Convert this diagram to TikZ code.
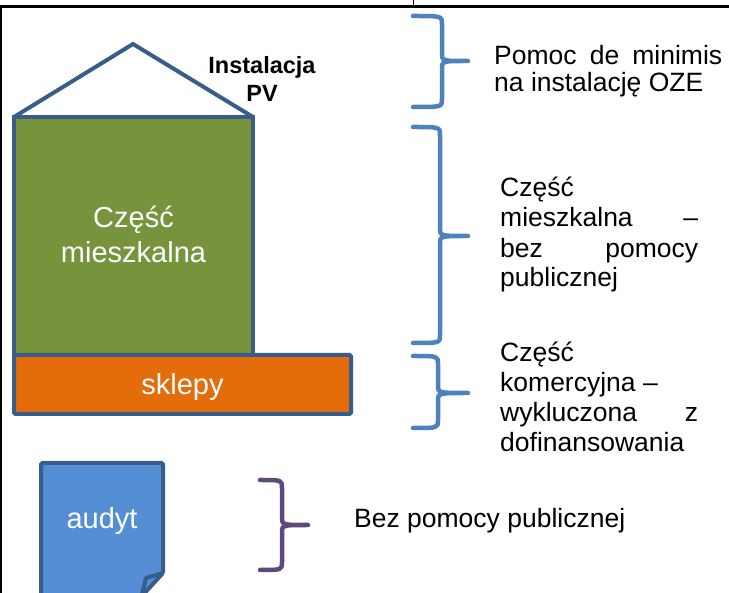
\documentclass[tikz,border=0pt]{standalone}
\usepackage{fontspec}
\setmainfont{Liberation Sans}
\definecolor{outl}{HTML}{385D8A}
\definecolor{grn}{HTML}{77933C}
\definecolor{orng}{HTML}{E46C0A}
\definecolor{docb}{HTML}{558ED5}
\definecolor{brb}{HTML}{4F81BD}
\definecolor{purp}{HTML}{5F497A}
\tikzset{
  shapeline/.style={draw=outl, line width=4pt, line join=miter},
  bracestyle/.style={draw=brb, line width=4.5pt, line cap=round, line join=round},
  whitetxt/.style={text=white, inner sep=0pt, font=\fontsize{29}{35}\selectfont},
  sidetxt/.style={text=black, inner sep=0pt, anchor=base west, font=\fontsize{26.5}{30}\selectfont},
  pvtxt/.style={text=black, inner sep=0pt, anchor=base, font=\fontsize{23.5}{28}\selectfont\bfseries},
}
\newcommand{\mybrace}[8]{% style, tip x, spine x, point x, top, mid, bottom, r
  \draw[#1] (#2,#5) .. controls (#3,#5) and (#3,#5) .. (#3,#5+#8)
    -- (#3,#6-#8) .. controls (#3,#6) and (#3,#6) .. (#4,#6)
    (#4,#6) .. controls (#3,#6) and (#3,#6) .. (#3,#6+#8)
    -- (#3,#7-#8) .. controls (#3,#7) and (#3,#7) .. (#2,#7);
}
\begin{document}
\begin{tikzpicture}[x=1pt,y=-1pt]
\useasboundingbox (0,0) rectangle (729,593);
% frame lines
\draw[line width=2.2pt] (0,6.5) -- (729,6.5);
\draw[line width=2pt] (1,6.5) -- (1,593);
\draw[line width=0.8pt] (413,0) -- (413,6);
% roof
\draw[shapeline] (14,117) -- (133,44) -- (253,117);
% residential part
\filldraw[shapeline, fill=grn] (14,117) rectangle (253,355);
% shops
\filldraw[shapeline, fill=orng, rounded corners=1.5pt] (14,355) rectangle (351,414);
% audit document
\filldraw[shapeline, fill=docb, rounded corners=1.5pt] (41,597) -- (41,463) -- (163,463) -- (163,573) -- (141,597) -- cycle;
\draw[shapeline, line join=round] (142,594) -- (146,578) -- (163,573);
% texts in shapes
\node[whitetxt, anchor=base] (cz1) at (133.5,228) {Część};
\node[whitetxt, anchor=base] (cz2) at (133.5,263) {mieszkalna};
\node[whitetxt, anchor=base] (skl) at (182.5,395) {sklepy};
\node[whitetxt, anchor=base] (aud) at (102,529) {audyt};
\node[pvtxt] (pv1) at (262,74) {Instalacja};
\node[pvtxt] (pv2) at (262,102) {PV};
% braces
\mybrace{bracestyle}{413}{442}{468}{16}{61}{107}{8}
\mybrace{bracestyle}{413}{440}{468}{127}{236}{343}{8}
\mybrace{bracestyle}{413}{438}{468}{356}{393}{428}{8}
\mybrace{bracestyle, draw=purp}{260}{282}{308}{480}{525}{570}{8}
% side texts
\node[sidetxt] (t1a) at (494,65) {\makebox[228pt][s]{Pomoc de minimis}};
\node[sidetxt] (t1b) at (494,92) {na instalację OZE};
\node[sidetxt] (t2a) at (500,197) {Część};
\node[sidetxt] (t2b) at (500,227) {\makebox[198pt][s]{mieszkalna –}};
\node[sidetxt] (t2c) at (500,257.5) {\makebox[198pt][s]{bez pomocy}};
\node[sidetxt] (t2d) at (500,287) {publicznej};
\node[sidetxt] (t3a) at (500,362) {Część};
\node[sidetxt] (t3b) at (500,392) {komercyjna –};
\node[sidetxt] (t3c) at (500,422) {\makebox[198pt][s]{wykluczona z}};
\node[sidetxt] (t3d) at (500,452) {dofinansowania};
\node[sidetxt] (t4) at (354,528) {Bez pomocy publicznej};
\end{tikzpicture}
\end{document}
